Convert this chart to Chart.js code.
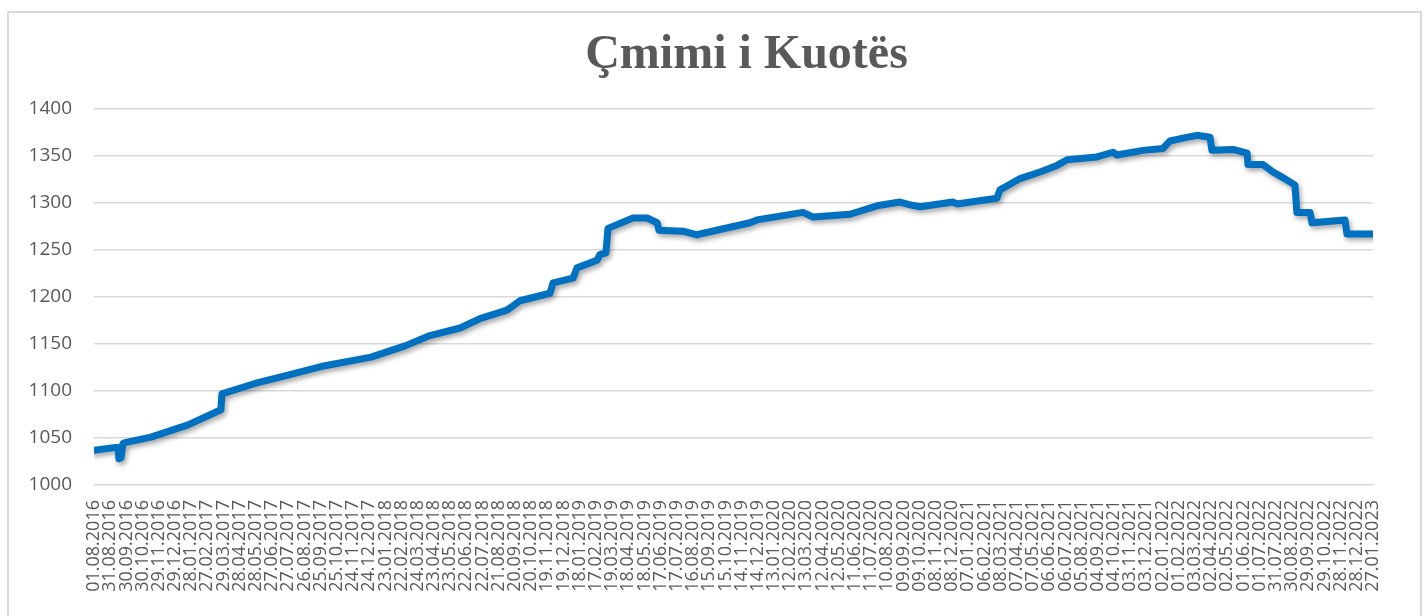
<!DOCTYPE html>
<html><head><meta charset="utf-8">
<script src="https://cdn.jsdelivr.net/npm/chart.js@4.4.1/dist/chart.umd.min.js"></script>
<style>
html,body{margin:0;padding:0;background:#fff;width:1427px;height:616px;overflow:hidden}
#frame{position:absolute;left:7px;top:11px;width:1415px;height:700px;border:2px solid #d9d9d9;box-sizing:border-box}
#wrap{position:absolute;left:0;top:0;width:1493px;height:616px}
</style></head><body>
<div id="frame"></div>
<div id="wrap"><canvas id="c"></canvas></div>
<script>
const chartTitle = 'Çmimi i Kuotës';

const tickLabels = [
'01.08.2016','31.08.2016','30.09.2016','30.10.2016','29.11.2016','29.12.2016','28.01.2017','27.02.2017',
'29.03.2017','28.04.2017','28.05.2017','27.06.2017','27.07.2017','26.08.2017','25.09.2017','25.10.2017',
'24.11.2017','24.12.2017','23.01.2018','22.02.2018','24.03.2018','23.04.2018','23.05.2018','22.06.2018',
'22.07.2018','21.08.2018','20.09.2018','20.10.2018','19.11.2018','19.12.2018','18.01.2019','17.02.2019',
'19.03.2019','18.04.2019','18.05.2019','17.06.2019','17.07.2019','16.08.2019','15.09.2019','15.10.2019',
'14.11.2019','14.12.2019','13.01.2020','12.02.2020','13.03.2020','12.04.2020','12.05.2020','11.06.2020',
'11.07.2020','10.08.2020','09.09.2020','09.10.2020','08.11.2020','08.12.2020','07.01.2021','06.02.2021',
'08.03.2021','07.04.2021','07.05.2021','06.06.2021','06.07.2021','05.08.2021','04.09.2021','04.10.2021',
'03.11.2021','03.12.2021','02.01.2022','01.02.2022','03.03.2022','02.04.2022','02.05.2022','01.06.2022',
'01.07.2022','31.07.2022','30.08.2022','29.09.2022','29.10.2022','28.11.2022','28.12.2022','27.01.2023'
];

// position along the date axis, in units of tick labels (0 = 01.08.2016, 79 = 27.01.2023)
const pointPos = [0,1.36,1.48,1.54,1.67,1.79,1.91,3.52,5.81,7.84,7.9,9.94,11.98,14.02,17.11,19.21,20.75,22.61,23.84,25.51,
26.31,28.17,28.35,29.59,29.83,31.07,31.25,31.62,31.75,32.3,33.29,34.16,34.78,34.9,36.38,37.24,37.43,40.52,40.95,43.79,
44.41,46.7,48.36,49.78,50.4,51.02,53.06,53.3,55.77,55.96,56.58,57.2,58.43,59.48,60.1,61.95,62.94,63.19,64.79,66.03,
66.46,67.26,68.13,68.93,69.05,70.35,71.22,71.28,72.2,72.82,73.44,74.18,74.3,75.11,75.23,77.27,77.39,79];

const pointVal = [1037,1040,1040,1028,1029,1044,1045,1051,1064,1080,1097,1108,1117,1126,1136,1148,1159,1167,1177,1186,
1196,1204,1215,1220,1231,1239,1245,1247,1273,1277,1284,1284,1279,1271,1270,1266,1267,1279,1282,1290,
1285,1288,1297,1301,1298,1296,1301,1299,1305,1314,1320,1326,1333,1340,1346,1349,1354,1351,1356,1358,
1366,1369,1372,1370,1356,1357,1353,1341,1341,1333,1327,1319,1290,1290,1279,1282,1267,1267];

const yMin = 1000, yMax = 1400, yStep = 50;

const shadowPlugin = {
  id: 'lineShadow',
  beforeDatasetDraw(chart) {
    const c = chart.ctx; c.save();
    c.shadowColor = 'rgba(0,0,0,0.35)'; c.shadowBlur = 5; c.shadowOffsetX = 2; c.shadowOffsetY = 3;
  },
  afterDatasetDraw(chart) { chart.ctx.restore(); }
};

new Chart(document.getElementById('c'), {
  type: 'line',
  data: {
    datasets: [{
      data: pointPos.map((p, i) => ({ x: p, y: pointVal[i] })),
      borderColor: '#0070c0',
      borderWidth: 7,
      pointRadius: 0,
      tension: 0,
      borderJoinStyle: 'round',
      borderCapStyle: 'round',
      fill: false
    }]
  },
  options: {
    responsive: true,
    maintainAspectRatio: false,
    animation: false,
    layout: { padding: 0 },
    plugins: {
      legend: { display: false },
      tooltip: { enabled: false },
      title: {
        display: true,
        text: chartTitle,
        color: '#595959',
        font: { family: 'Liberation Serif', size: 48, weight: 'bold', lineHeight: 1.2 },
        padding: { top: 27, bottom: 24.4 }
      }
    },
    scales: {
      x: {
        type: 'linear',
        min: 0, max: tickLabels.length - 1,
        grid: { display: false, drawTicks: false },
        border: { display: false },
        ticks: {
          stepSize: 1, autoSkip: false, maxTicksLimit: 500,
          maxRotation: 90, minRotation: 90,
          padding: 15,
          color: '#595959',
          font: { family: 'Open Sans', size: 18 },
          callback: (v) => tickLabels[v] ?? ''
        },
        afterFit: (s) => { s.height = 131; }
      },
      y: {
        min: yMin, max: yMax,
        grid: { color: '#d9d9d9', lineWidth: 1.5, drawTicks: false },
        border: { display: false },
        ticks: {
          stepSize: yStep, padding: 22, color: '#595959',
          font: { family: 'Open Sans', size: 19 },
          callback: (v) => String(v)
        },
        afterFit: (s) => { s.width = 94; }
      },
      y2: {
        position: 'right',
        grid: { display: false, drawTicks: false },
        border: { display: false },
        ticks: { display: false },
        afterFit: (s) => { s.width = 120; }
      }
    }
  },
  plugins: [shadowPlugin]
});
</script>
</body></html>
